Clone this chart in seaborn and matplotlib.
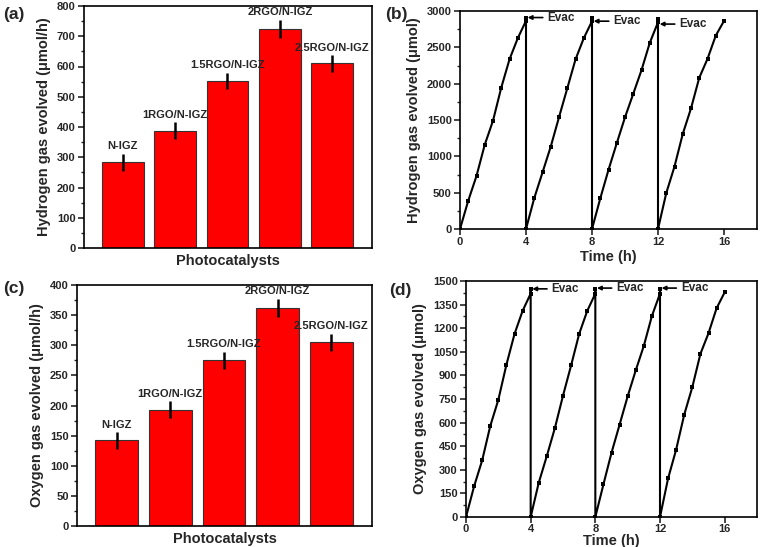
import numpy as np
import pandas as pd
import matplotlib
matplotlib.use("Agg")
import matplotlib.pyplot as plt
import seaborn as sns
from matplotlib.ticker import MultipleLocator

# --- data ---
catalysts = ["N-IGZ", "1RGO/N-IGZ", "1.5RGO/N-IGZ", "2RGO/N-IGZ", "2.5RGO/N-IGZ"]
h2_rate = [284, 388, 552, 725, 610]
h2_err = [28, 28, 28, 30, 28]
o2_rate = [142, 193, 275, 362, 305]
o2_err = [14, 14, 14, 15, 14]

cycle_time = [0, 0.5, 1.0, 1.5, 2.0, 2.5, 3.0, 3.5, 4.0]
h2_cycles = [
    [0, 390, 730, 1160, 1490, 1945, 2335, 2625, 2865],
    [0, 425, 778, 1134, 1538, 1935, 2333, 2625, 2860],
    [0, 420, 814, 1180, 1537, 1861, 2186, 2561, 2845],
    [0, 494, 860, 1308, 1660, 2081, 2341, 2661, 2863],
]
h2_evac = [2908, 2905, 2895]
o2_cycles = [
    [0, 195, 360, 578, 745, 968, 1163, 1310, 1420],
    [0, 218, 388, 566, 771, 963, 1164, 1310, 1420],
    [0, 207, 408, 587, 767, 932, 1088, 1278, 1420],
    [0, 245, 429, 651, 826, 1037, 1168, 1327, 1428],
]
o2_evac = [1450, 1450, 1450]

sns.set_theme(style="ticks")
plt.rcParams["font.family"] = ["Liberation Sans", "DejaVu Sans"]
plt.rcParams["font.weight"] = "bold"
plt.rcParams["axes.labelweight"] = "bold"
plt.rcParams["axes.linewidth"] = 1.2
plt.rcParams["xtick.major.width"] = 1.2
plt.rcParams["ytick.major.width"] = 1.2
plt.rcParams["ytick.minor.width"] = 1.0
plt.rcParams["xtick.labelsize"] = 8
plt.rcParams["ytick.labelsize"] = 8

fig = plt.figure(figsize=(7.61, 5.47), dpi=100)
W, H = 761, 547


def add_ax(l, t, r, b):
    return fig.add_axes([l / W, 1 - b / H, (r - l) / W, (b - t) / H])


def letter_at(x, y, s):
    fig.text(x / W, 1 - y / H, s, fontsize=12.5, fontweight="bold",
             ha="center", va="center")


def bar_panel(ax, values, errs, ymax, ystep, ylabel, label_off):
    df = pd.DataFrame({"cat": catalysts, "val": values})
    sns.barplot(data=df, x="cat", y="val", ax=ax, color="#ff0000",
                saturation=1, width=0.8, edgecolor="#333333", linewidth=0.8)
    ax.errorbar(range(len(values)), values, yerr=errs, fmt="none",
                ecolor="black", elinewidth=1.8, capsize=0)
    for i, (v, e) in enumerate(zip(values, errs)):
        ax.text(i, v + e + label_off, catalysts[i], ha="center", va="bottom",
                fontsize=8, fontweight="bold")
    ax.set_xlim(-0.74, 4.76)
    ax.set_ylim(0, ymax)
    ax.yaxis.set_major_locator(MultipleLocator(ystep))
    ax.yaxis.set_minor_locator(MultipleLocator(ystep / 2))
    ax.tick_params(axis="x", length=0, labelbottom=False)
    ax.tick_params(axis="y", which="major", length=4, direction="out", pad=2)
    ax.tick_params(axis="y", which="minor", length=2, direction="out")
    ax.set_xlabel("Photocatalysts", fontsize=10.5, fontweight="bold")
    ax.set_ylabel(ylabel, fontsize=10.5, fontweight="bold")
    for s in ax.spines.values():
        s.set_visible(True)
        s.set_color("black")


def cycle_panel(ax, cycles, evac, ymax, ystep, ylabel, evac_y, xpad, tpad):
    xs, ys = [], []
    for k, c in enumerate(cycles):
        xs += [t + 4 * k for t in cycle_time]
        ys += c
        if k < len(evac):
            xs += [4 * (k + 1), 4 * (k + 1)]
            ys += [evac[k], 0]
    df = pd.DataFrame({"t": xs, "v": ys})
    sns.lineplot(data=df, x="t", y="v", ax=ax, sort=False, color="black",
                 linewidth=1.5, marker="s", markersize=3, markeredgewidth=0,
                 estimator=None)
    for k, (e, ty) in enumerate(zip(evac, evac_y)):
        xe = 4 * (k + 1)
        ax.annotate("Evac", xy=(xe + 0.1, ty), xytext=(xe + 1.3, ty),
                    fontsize=8.5, fontweight="bold", va="center", ha="left",
                    arrowprops=dict(arrowstyle="-|>", color="black", lw=1.2,
                                    mutation_scale=6, shrinkA=1, shrinkB=0))
    ax.set_xlim(0, 18)
    ax.set_ylim(0, ymax)
    ax.set_xticks([0, 4, 8, 12, 16])
    ax.yaxis.set_major_locator(MultipleLocator(ystep))
    ax.yaxis.set_minor_locator(MultipleLocator(ystep / 2))
    ax.tick_params(axis="y", which="major", length=4, direction="out", pad=2)
    ax.tick_params(axis="x", which="major", length=4, direction="out", pad=tpad)
    ax.tick_params(axis="y", which="minor", length=2, direction="out")
    ax.set_xlabel("Time (h)", fontsize=10.5, fontweight="bold", labelpad=xpad)
    ax.set_ylabel(ylabel, fontsize=10.5, fontweight="bold")
    for s in ax.spines.values():
        s.set_visible(True)
        s.set_color("black")


ax_a = add_ax(84, 6, 372, 248)
bar_panel(ax_a, h2_rate, h2_err, 800, 100,
          "Hydrogen gas evolved (\u03bcmol/h)", 8)
letter_at(14, 15, "(a)")

ax_b = add_ax(460, 11, 757, 229)
cycle_panel(ax_b, h2_cycles, h2_evac, 3000, 500,
            "Hydrogen gas evolved (\u03bcmol)", [2910, 2860, 2820], 2, 2)
letter_at(396, 15, "(b)")

ax_c = add_ax(77, 285, 372, 526)
bar_panel(ax_c, o2_rate, o2_err, 400, 50,
          "Oxygen gas evolved (\u03bcmol/h)", 4)
letter_at(14, 288, "(c)")

ax_d = add_ax(466, 281, 757, 517)
cycle_panel(ax_d, o2_cycles, o2_evac, 1500, 150,
            "Oxygen gas evolved (\u03bcmol)", [1450, 1455, 1455], 0, 1)
letter_at(400, 290, "(d)")

fig.savefig("out.png", dpi=100)
